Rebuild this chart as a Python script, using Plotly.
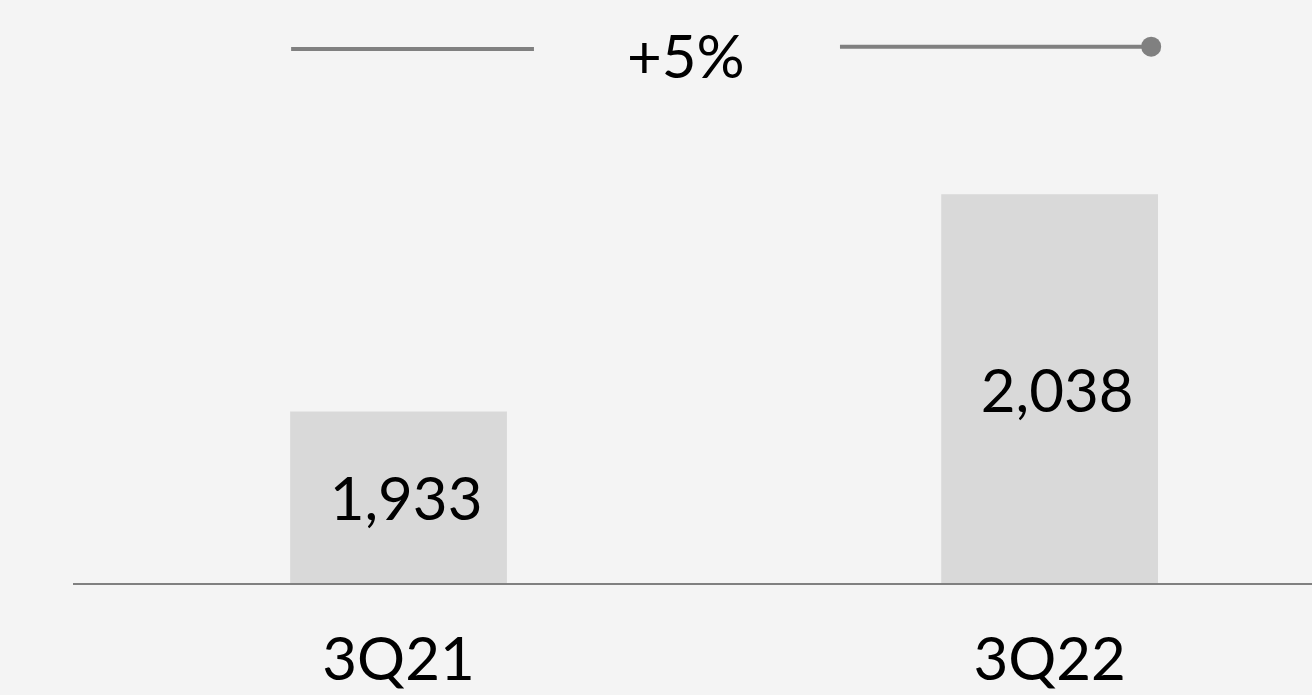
import plotly.graph_objects as go

quarters = ["3Q21", "3Q22"]
revenue = [1933, 2038]
value_labels = ["1,933", "2,038"]
growth_label = "+5%"
axis_floor = 1850  # the value axis starts here, not at zero
axis_ceiling = 2132

bg = "#f4f4f4"
bar_color = "#d9d9d9"
line_color = "#808080"
font_family = "Lato, sans-serif"

fig = go.Figure()
fig.add_trace(go.Bar(
    x=quarters,
    y=[v - axis_floor for v in revenue],
    base=axis_floor,
    width=0.333,
    marker=dict(color=bar_color, line=dict(width=0)),
    text=["\u2009\u2009" + t for t in value_labels],
    textposition="inside",
    insidetextanchor="middle",
    textangle=0,
    textfont=dict(family=font_family, size=60, color="black"),
    hoverinfo="skip",
))

# growth connector across the top
fig.add_shape(type="line", xref="x", yref="paper", x0=-0.165, x1=0.208, y0=0.916, y1=0.916,
              line=dict(color=line_color, width=4))
fig.add_shape(type="line", xref="x", yref="paper", x0=0.678, x1=1.156, y0=0.92, y1=0.92,
              line=dict(color=line_color, width=4))
fig.add_shape(type="circle", xref="x", yref="paper", xsizemode="pixel", ysizemode="pixel",
              xanchor=1.156, yanchor=0.92, x0=-10, x1=10, y0=-10, y1=10,
              fillcolor=line_color, line=dict(width=0))
fig.add_annotation(text=growth_label, xref="paper", yref="paper", x=0.495, y=0.905,
                   xanchor="center", yanchor="middle", showarrow=False,
                   font=dict(family=font_family, size=60, color="black"))

fig.update_layout(
    width=1312, height=695,
    margin=dict(l=73, r=0, t=0, b=112),
    paper_bgcolor=bg, plot_bgcolor=bg,
    showlegend=False,
    xaxis=dict(type="category", range=[-0.5, 1.403], showgrid=False, zeroline=False,
               showline=True, linecolor=line_color, linewidth=2, automargin=False,
               ticks="outside", ticklen=23, tickcolor="rgba(0,0,0,0)",
               tickfont=dict(family=font_family, size=60, color="black")),
    yaxis=dict(range=[axis_floor, axis_ceiling], visible=False, showgrid=False,
               zeroline=False, automargin=False),
)

fig.write_html("out.html", config={"displayModeBar": False},
               post_script="document.body.style.margin='0';")
